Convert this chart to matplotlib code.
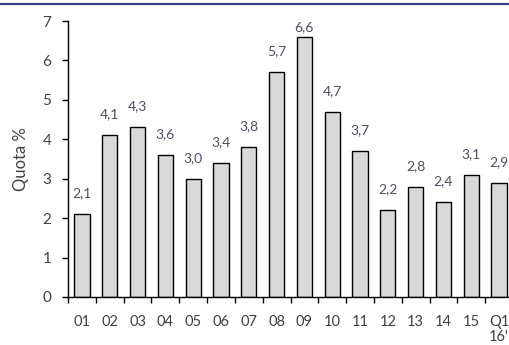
import numpy as np
import matplotlib.pyplot as plt
from matplotlib.lines import Line2D

categories = ['01', '02', '03', '04', '05', '06', '07', '08',
              '09', '10', '11', '12', '13', '14', '15', "Q1\n16'"]
values = [2.1, 4.1, 4.3, 3.6, 3.0, 3.4, 3.8, 5.7,
          6.6, 4.7, 3.7, 2.2, 2.8, 2.4, 3.1, 2.9]
yticks = [0, 1, 2, 3, 4, 5, 6, 7]

plt.rcParams['font.family'] = ['Lato', 'DejaVu Sans']

fig = plt.figure(figsize=(5.09, 3.45), dpi=100)
ax = fig.add_axes([68 / 509, 48 / 345, 445 / 509, 276 / 345])

x = np.arange(len(values))
bars = ax.bar(x, values, width=0.55, color='#d9d9d9',
              edgecolor='black', linewidth=1.0, zorder=2)

# value labels, kept inside the plot area
for xi, v in zip(x, values):
    ytxt = min(v + 0.53, 6.85)
    ax.text(xi, ytxt, f'{v:.1f}'.replace('.', ','), ha='center',
            va='center', fontsize=10, color='#4d4d66')

ax.set_xlim(-0.5, len(values) - 0.5)
ax.set_ylim(0, 7)
ax.set_yticks(yticks)
ax.set_yticklabels([str(t) for t in yticks])

ax.set_xticks(x)
ax.set_xticklabels(categories, linespacing=1.1)
ax.set_xticks(np.arange(-0.5, len(values)), minor=True)
ax.tick_params(axis='x', which='major', length=0, pad=13,
               labelsize=10.5, labelcolor='#404040')
ax.tick_params(axis='x', which='minor', length=4.5, width=1, direction='out')
ax.tick_params(axis='y', length=4, width=1, pad=8,
               labelsize=11, labelcolor='#404040')

for s in ['top', 'right']:
    ax.spines[s].set_visible(False)
for s in ['left', 'bottom']:
    ax.spines[s].set_linewidth(1.0)
    ax.spines[s].set_color('black')

ax.set_ylabel('Quota %', fontsize=12, color='#404040', labelpad=10)

# thin navy rule at the top of the frame
fig.add_artist(Line2D([0, 1], [1 - 3.5 / 345, 1 - 3.5 / 345],
                      transform=fig.transFigure, color='#3b3f8f',
                      linewidth=1.6))

plt.savefig('out.png', dpi=100)
